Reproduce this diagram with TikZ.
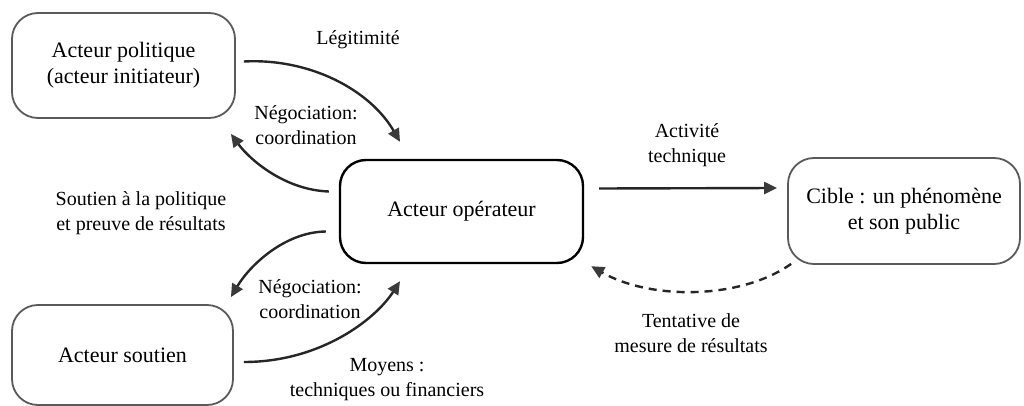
\documentclass[tikz,border=0pt]{standalone}
\usepackage{fontspec}
\setmainfont{Liberation Serif}
\usetikzlibrary{arrows.meta,calc}
\definecolor{boxgray}{HTML}{5A5A5A}
\definecolor{tipgray}{HTML}{3A3A3A}
\tikzset{
  graybox/.style={draw=boxgray, line width=1.8pt, rounded corners=26pt, fill=white,
    align=center, inner sep=0pt, font=\fontsize{22}{26}\selectfont},
  blackbox/.style={draw=black, line width=2.4pt, rounded corners=26pt, fill=white,
    align=center, inner sep=0pt, font=\fontsize{22}{26}\selectfont},
  lbl/.style={align=center, inner sep=0pt, font=\fontsize{20}{25}\selectfont},
  conn/.style={line width=2.4pt, draw=black!85,
    -{Triangle[length=13pt,width=12pt,fill=tipgray,color=tipgray]}},
  dconn/.style={conn, dash pattern=on 8pt off 6pt}
}
\begin{document}
\begin{tikzpicture}[x=1pt,y=-1pt]
\useasboundingbox (0,0) rectangle (1024,406);
% boxes
\node[graybox, minimum width=223pt, minimum height=105pt] (pol) at (123.5,65.5) {Acteur politique\\(acteur initiateur)};
\node[blackbox, minimum width=243pt, minimum height=103pt] (op) at (461.5,211.5) {Acteur opérateur};
\node[graybox, minimum width=232pt, minimum height=106pt] (cib) at (904,211) {Cible : un phénomène\\et son public};
\node[graybox, minimum width=221pt, minimum height=100pt] (sou) at (122.5,355) {Acteur soutien};
% labels
\node[lbl] (legit) at (358,40) {Légitimité};
\node[lbl] (neg1) at (306,125) {Négociation:\\coordination};
\node[lbl] (sout) at (141,213) {Soutien à la politique\\et preuve de résultats};
\node[lbl] (neg2) at (310,299) {Négociation:\\coordination};
\node[lbl] (moy) at (387,380) {Moyens :\\techniques ou financiers};
\node[lbl] (act) at (687,145) {Activité\\technique};
\node[lbl] (tent) at (691,333) {Tentative de\\mesure de résultats};
% connectors
\draw[conn] ($(pol.east)+(8,-4)$) .. controls (310,58) and (370,90) .. ($(op.north)+(-61.5,-17)$);
\draw[conn] ($(op.west)+(-10,-20)$) .. controls (285,190) and (250,160) .. ($(pol.south east)+(-5,15)$);
\draw[conn] ($(op.west)+(-13,20)$) .. controls (285,232) and (250,265) .. ($(sou.north east)+(-3,-7)$);
\draw[conn] ($(sou.east)+(10,7)$) .. controls (320,362) and (375,320) .. ($(op.south)+(-61.5,17)$);
\draw[conn] ($(op.east)+(15,-23)$) -- ($(cib.west)+(-10,-23)$);
\draw[dconn] ($(cib.south west)+(4,-1)$) .. controls (740,300) and (650,300) .. ($(op.south east)+(7,2)$);
\end{tikzpicture}
\end{document}
